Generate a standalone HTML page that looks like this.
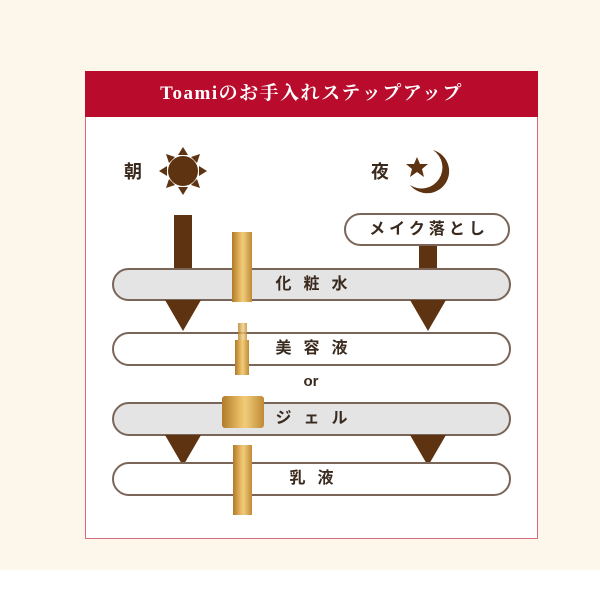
<!DOCTYPE html>
<html><head><meta charset="utf-8"><style>
body{margin:0;width:600px;height:600px;background:#fff;position:relative;overflow:hidden;font-family:"Liberation Sans","Noto Sans CJK JP",sans-serif}
.bg{position:absolute;left:0;top:0;width:600px;height:570px;background:#fcf7ea}
.frame{position:absolute;left:85px;top:71px;width:451px;height:466px;background:#fff;border:1px solid #d46a7a}
.hdr{position:absolute;left:85px;top:71px;width:453px;height:46px;background:#b90b2b;color:#fff;font-family:"Liberation Serif","Noto Serif CJK SC",serif;font-size:19px;font-weight:bold;text-align:center;line-height:46px;letter-spacing:1.5px}
.bar{position:absolute;left:112px;width:399px;border:2px solid #7a6658;border-radius:18px;text-align:center;color:#3a2a1e;font-size:16px;font-weight:bold;letter-spacing:12px;padding-left:12px;box-sizing:border-box}
.g{background:#e4e4e4}.w{background:#fff}
.shaft{position:absolute;background:#5e3311}
.head{position:absolute;width:0;height:0;border-left:18px solid transparent;border-right:18px solid transparent;border-top:31px solid #5e3311}
.lbl{position:absolute;font-size:18px;font-weight:bold;color:#3a2a1e}
.gold{position:absolute;background:linear-gradient(90deg,#b07a2a,#e6b860 40%,#f0cc7a 55%,#c08a36);}
</style></head><body>
<div class="bg"></div>
<div class="frame"></div>
<div class="hdr">Toamiのお手入れステップアップ</div>
<div class="lbl" style="left:124px;top:158px">朝</div>
<div class="lbl" style="left:371px;top:158px">夜</div>
<svg style="position:absolute;left:0;top:0" width="600" height="600">
<g fill="#5e3311">
<circle cx="183" cy="171" r="15"/>
<polygon points="183,147 178,155 188,155"/><polygon points="183,195 178,187 188,187"/>
<polygon points="159,171 167,166 167,176"/><polygon points="207,171 199,166 199,176"/>
<polygon points="166,154 175,157 169,163"/><polygon points="200,154 191,157 197,163"/>
<polygon points="166,188 175,185 169,179"/><polygon points="200,188 191,185 197,179"/>
<polygon points="417,157 420,164 428,164 422,169 424,177 417,172 410,177 412,169 406,164 414,164"/>
<path d="M433,150 A22,22 0 1 1 410,185 A18,18 0 0 0 433,150 Z"/>
</g>
</svg>
<div class="shaft" style="left:174px;top:215px;width:18px;height:86px"></div>
<div class="shaft" style="left:419px;top:240px;width:18px;height:61px"></div>
<div class="bar w" style="left:344px;top:213px;width:166px;height:33px;letter-spacing:4px;padding-left:4px;line-height:29px">メイク落とし</div>
<div class="bar g" style="top:268px;height:33px;line-height:29px">化粧水</div>
<div class="head" style="left:165px;top:300px"></div>
<div class="head" style="left:410px;top:300px"></div>
<div class="bar w" style="top:332px;height:34px;line-height:30px">美容液</div>
<div style="position:absolute;left:0;width:600px;top:373px;text-align:center;font-size:15px;font-weight:bold;color:#3a2a1e;padding-left:22px;box-sizing:border-box">or</div>
<div class="bar g" style="top:402px;height:34px;line-height:30px">ジェル</div>
<div class="head" style="left:165px;top:435px"></div>
<div class="head" style="left:410px;top:435px"></div>
<div class="bar w" style="top:462px;height:34px;line-height:30px">乳液</div>
<div class="gold" style="left:232px;top:232px;width:20px;height:70px"></div>
<div class="gold" style="left:238px;top:323px;width:9px;height:18px;opacity:.8"></div>
<div class="gold" style="left:235px;top:340px;width:14px;height:35px"></div>
<div class="gold" style="left:222px;top:396px;width:42px;height:32px;border-radius:3px"></div>
<div class="gold" style="left:233px;top:445px;width:19px;height:70px"></div>
</body></html>
